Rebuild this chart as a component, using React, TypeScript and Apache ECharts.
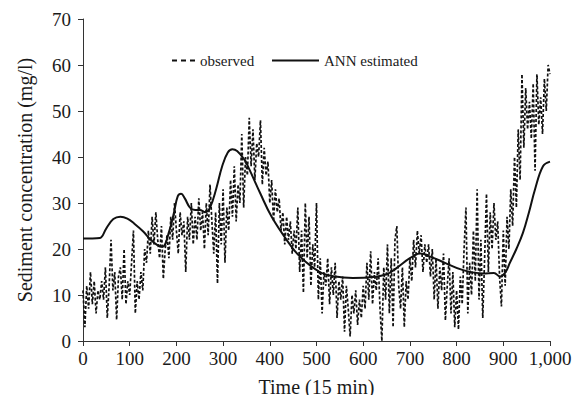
import React, { useEffect, useRef } from "react";
import * as echarts from "echarts";

// observed sediment concentration, sampled every 4 time steps (t = 0, 4, 8, ... 1000)
const observedStep = 4;
const observed: number[] = [
  11, 3, 12, 7, 15,
  8, 13, 6, 11, 9,
  13, 9, 16, 5, 12,
  22, 11, 15, 4.6, 14,
  16, 9, 20, 8, 13,
  10, 17, 24, 6, 13,
  9, 15, 11, 20, 17,
  24, 19, 27, 21, 28,
  22, 18, 25, 13.5, 20,
  23, 18, 27, 22, 30,
  24, 19, 28, 23, 26,
  15, 27, 22, 30, 21,
  27, 22, 31, 24, 28,
  20, 30, 23, 34, 26,
  19, 28, 12.5, 30, 21,
  33, 17, 29, 24, 35,
  27, 38, 26, 34, 30,
  45, 29, 40, 36, 48.5,
  38, 46, 35, 43, 40,
  48, 34, 42, 36, 39,
  30, 35, 26, 33, 28,
  31, 24, 28, 21, 27,
  22, 26, 19, 24, 20,
  29, 15, 24, 10.5, 30,
  18, 27, 12, 21, 16,
  30, 9, 18, 6, 15,
  12, 18, 8, 16, 10,
  17, 5, 13, 9, 14,
  2, 12, 7, 1, 10,
  6, 11, 3.5, 9, 5,
  12, 7, 17, 9, 19.5,
  8, 15, 11, 18, 7,
  0, 16, 9, 21, 6,
  18, 3, 22, 25, 12,
  7, 16, 3, 13, 9,
  18, 13, 22, 16, 24,
  19, 23, 15, 21, 17,
  21, 14, 20, 9, 18,
  7, 16, 11, 19, 4.5,
  12, 18, 6, 15, 3,
  11, 2.5, 14, 8, 20,
  29, 6, 17, 10, 24,
  13, 33, 9, 22, 5,
  18, 32, 15, 28, 20,
  30, 22, 26, 14, 7.5,
  24, 12, 27, 20, 33,
  25, 40, 29, 46, 35,
  58, 42, 55, 46, 52,
  44, 56, 37, 58, 47,
  53, 45, 57, 50, 60,
  58,
];

// ANN estimated curve
const annTimes: number[] = [
  0, 20, 36, 50, 65, 80, 95, 110, 129, 145, 160, 170, 185, 195, 203, 210, 218,
  229, 240, 250, 262, 272, 285, 298, 310, 320, 330, 345, 354, 380, 404, 436,
  465, 507, 540, 578, 621, 650, 672, 700, 722, 745, 775, 814, 857, 880, 893,
  905, 914, 928, 942, 955, 968, 985, 1000,
];
const annValues: number[] = [
  22.3, 22.3, 22.4, 24.5, 26.5, 27, 26.6, 25.5, 23.8, 22, 20.8, 20.5, 24, 28,
  31.5, 32, 31, 29, 28.5, 28.5, 28, 29, 33, 38, 41, 41.7, 41.3, 39.5, 37.8,
  32, 27, 22, 18.3, 15, 14, 13.7, 13.9, 14.5, 15.9, 18, 19, 18.3, 17, 15.4,
  14.7, 14.8, 14, 15, 17, 20, 23.5, 28, 33, 38, 39,
];

const xTicks = { min: 0, max: 1000, interval: 100 };
const yTicks = { min: 0, max: 70, interval: 10 };

const FONT = "'Liberation Serif', 'Times New Roman', serif";
const INK = "#1a1a1a";

export default function App() {
  const ref = useRef<HTMLDivElement>(null);
  useEffect(() => {
    if (!ref.current) return;
    const chart = echarts.init(ref.current, undefined, { renderer: "svg" });
    const obsData = observed.map((v, i) => [i * observedStep, v]);
    const annData = annTimes.map((t, i) => [t, annValues[i]]);
    chart.setOption({
      animation: false,
      backgroundColor: "#ffffff",
      textStyle: { fontFamily: FONT },
      grid: { left: 83, right: 36, top: 19, bottom: 62 },
      legend: [
        {
          data: [
            {
              name: "observed",
              icon: "path://M0,0h5v2h-5z M9,0h5v2h-5z M18,0h5v2h-5z",
            },
          ],
          left: 167,
          top: 48,
          itemWidth: 23,
          itemHeight: 2,
          symbolKeepAspect: false,
          textStyle: { fontFamily: FONT, fontSize: 15, color: INK },
        },
        {
          data: [{ name: "ANN estimated", icon: "rect" }],
          left: 267,
          top: 48,
          itemWidth: 47,
          itemHeight: 2,
          symbolKeepAspect: false,
          textStyle: { fontFamily: FONT, fontSize: 15, color: INK },
        },
      ],
      xAxis: {
        type: "value",
        ...xTicks,
        name: "Time (15 min)",
        nameLocation: "middle",
        nameGap: 36,
        nameTextStyle: { fontFamily: FONT, fontSize: 20, color: INK },
        axisLine: { lineStyle: { color: "#333", width: 1 } },
        axisTick: { show: true, length: 5, lineStyle: { color: "#333" } },
        axisLabel: {
          fontFamily: FONT,
          fontSize: 19,
          color: INK,
          margin: 8,
          formatter: (v: number) => (v >= 1000 ? "1,000" : String(v)),
        },
        splitLine: { show: false },
      },
      yAxis: {
        type: "value",
        ...yTicks,
        name: "Sediment concentration (mg/l)",
        nameLocation: "middle",
        nameGap: 48,
        nameTextStyle: { fontFamily: FONT, fontSize: 20, color: INK },
        axisLine: { show: true, lineStyle: { color: "#333", width: 1 } },
        axisTick: { show: true, length: 5, lineStyle: { color: "#333" } },
        axisLabel: { fontFamily: FONT, fontSize: 19, color: INK, margin: 12 },
        splitLine: { show: false },
      },
      series: [
        {
          name: "observed",
          type: "line",
          data: obsData,
          symbol: "none",
          lineStyle: { color: "#111", width: 1.7, type: [3, 2] },
          itemStyle: { color: "#111" },
          z: 2,
        },
        {
          name: "ANN estimated",
          type: "line",
          data: annData,
          symbol: "none",
          smooth: 0.4,
          lineStyle: { color: "#111", width: 2 },
          itemStyle: { color: "#111" },
          z: 3,
        },
      ],
    });
    return () => chart.dispose();
  }, []);
  return <div ref={ref} style={{ width: 586, height: 403, margin: -8 }} />;
}
